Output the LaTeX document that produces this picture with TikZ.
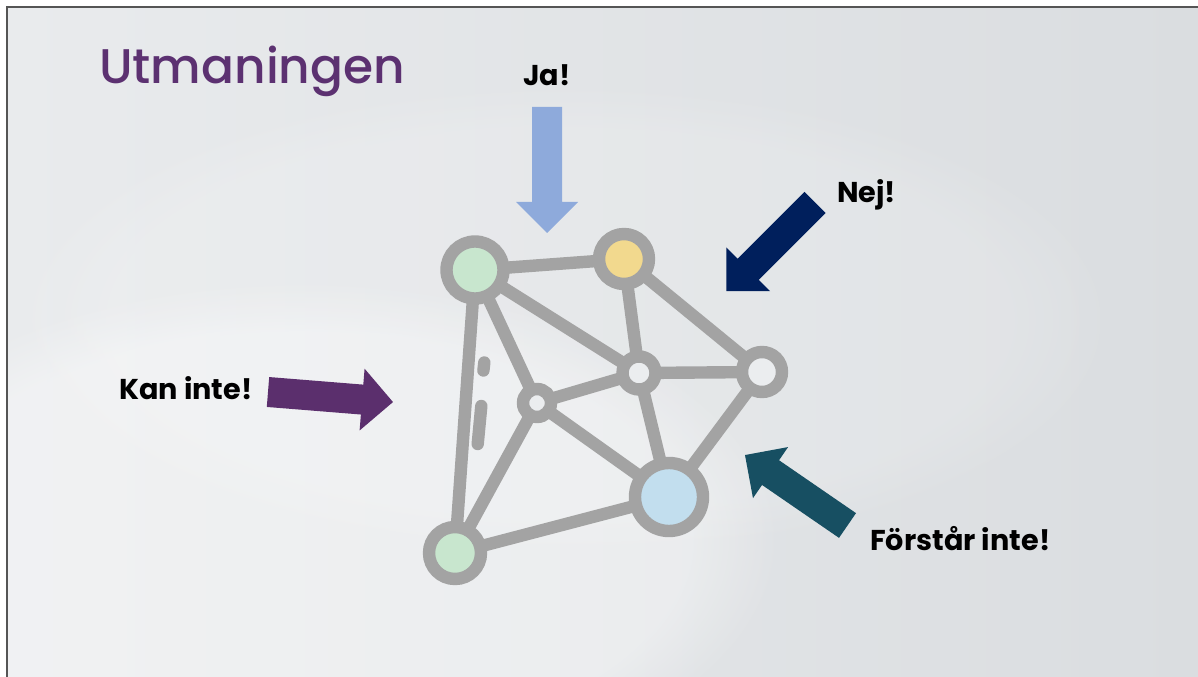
\documentclass[tikz,border=0pt]{standalone}
\usepackage{fontspec}
\newfontfamily\labelfont{Poppins}
\newfontfamily\titlefont{Poppins Medium}
\usetikzlibrary{fadings}

\definecolor{bgL}{HTML}{E9EBED}
\definecolor{bgR}{HTML}{DADDE0}
\definecolor{frameline}{HTML}{555555}
\definecolor{netgray}{HTML}{A3A3A3}
\definecolor{nodegreen}{HTML}{C8E6CE}
\definecolor{nodeyellow}{HTML}{F2D98E}
\definecolor{nodeblue}{HTML}{C2DEEE}
\definecolor{nodelight}{HTML}{EBEDEF}
\definecolor{titlepurple}{HTML}{5C3171}
\definecolor{arrowja}{HTML}{8EAADB}
\definecolor{arrownej}{HTML}{001F5C}
\definecolor{arrowforstar}{HTML}{174F62}
\definecolor{arrowkan}{HTML}{5B2F6D}

% block arrow: style, tail point, direction (deg), length (px)
\newcommand{\blockarrow}[4]{%
  \fill[#1] [shift={#2}, rotate=#3]
    (0,-15) -- (#4-31,-15) -- (#4-31,-31) -- (#4,0) -- (#4-31,31) -- (#4-31,15) -- (0,15) -- cycle;}

\tikzset{
  netnode/.style={circle, draw=netgray, line width=9.3pt, inner sep=0pt, outer sep=0pt,
                  minimum size={2*#1*0.75pt}},
  edge/.style={draw=netgray, line width=9.3pt},
  dashmark/.style={draw=netgray, line width=9.3pt, line cap=round},
  label/.style={font=\labelfont\bfseries\fontsize{21.5}{26}\selectfont, text=black, inner sep=0pt},
}

\begin{document}
\begin{tikzpicture}[x=0.75pt,y=-0.75pt]
  \useasboundingbox (0,0) rectangle (1198,677);
  \fill[white] (0,0) rectangle (1198,677);

  % slide background
  \shade[left color=bgL, right color=bgR] (7,7) rectangle (1198,677);
  \fill[white, fill opacity=0.35, path fading=circle with fuzzy edge 20 percent]
    (300,540) ellipse [x radius=480, y radius=260];
  \fill[white, fill opacity=0.15, path fading=circle with fuzzy edge 20 percent]
    (560,320) ellipse [x radius=560, y radius=240];
  \draw[frameline, line width=1.2pt] (7,677) -- (7,7) -- (1198,7);

  % title
  \node[anchor=base west, inner sep=0pt, text=titlepurple,
        font=\titlefont\fontsize{36.5}{44}\selectfont] (title) at (99,84) {Utmaningen};

  % network
  \node[netnode=28.5, fill=nodegreen]  (TL) at (475,270) {};
  \node[netnode=25,   fill=nodeyellow] (Y)  at (624,259) {};
  \node[netnode=16.5, fill=nodelight]  (M)  at (639,373) {};
  \node[netnode=20,   fill=nodelight]  (R)  at (762,372) {};
  \node[netnode=14,   fill=nodelight]  (S)  at (537,403) {};
  \node[netnode=34,   fill=nodeblue]   (B)  at (669,497) {};
  \node[netnode=26,   fill=nodegreen]  (G)  at (455,553) {};

  \draw[edge] (TL) -- (Y);
  \draw[edge] (TL) -- (M);
  \draw[edge] (TL) -- (S);
  \draw[edge] (TL) -- (G);
  \draw[edge] (Y) -- (M);
  \draw[edge] (Y) -- (R);
  \draw[edge] (M) -- (R);
  \draw[edge] (M) -- (S);
  \draw[edge] (M) -- (B);
  \draw[edge] (S) -- (B);
  \draw[edge] (S) -- (G);
  \draw[edge] (R) -- (B);
  \draw[edge] (G) -- (B);

  % dashes inside the left triangle
  \draw[dashmark] (484.3,362.5) -- (483.4,370.5);
  \draw[dashmark] (481.3,406) -- (477.7,444);

  % arrows
  \blockarrow{arrowja}{(547,107)}{-90}{126}
  \blockarrow{arrownej}{(815,202.5)}{-135}{125.5}
  \blockarrow{arrowforstar}{(847.5,525.5)}{145.5}{124.4}
  \blockarrow{arrowkan}{(268,392)}{-4.6}{125.4}

  % labels
  \node[label, anchor=base] (ja) at (547,86) {Ja!};
  \node[label, anchor=base west] (nej) at (837,203) {Nej!};
  \node[label, anchor=base west] (forstar) at (870,550) {Förstår inte!};
  \node[label, anchor=base west] (kan) at (119,399) {Kan inte!};
\end{tikzpicture}
\end{document}
